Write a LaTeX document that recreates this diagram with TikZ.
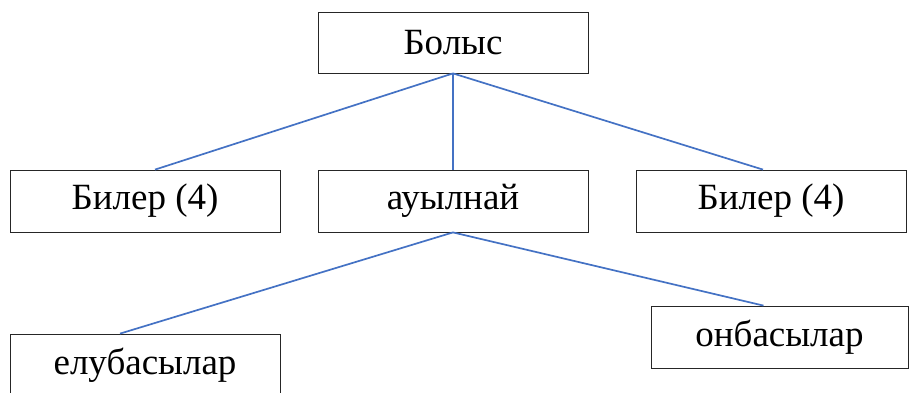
\documentclass[tikz,border=0pt]{standalone}
\usepackage{fontspec}
\setmainfont{Liberation Serif}
\definecolor{linkblue}{RGB}{68,114,196}
\begin{document}
\begin{tikzpicture}[x=1pt,y=-1pt,
    unit/.style={draw=black!85, line width=0.8pt, minimum width=270pt, minimum height=62pt, inner sep=0pt, font=\fontsize{37}{43}\selectfont},
    link/.style={draw=linkblue, line width=1.7pt}]
    \useasboundingbox (0,0) rectangle (910,392);

    % top level
    \node[unit, minimum height=61pt] (bolys) at (453,42.5) {Болыс};

    % middle level
    \node[unit] (bilerL) at (145,201) {Билер (4)};
    \node[unit] (auyl) at (453,201) {ауылнай};
    \node[unit] (bilerR) at (771,201) {Билер (4)};

    % bottom level
    \node[unit] (elu) at (145,365) {елубасылар};
    \node[unit, minimum width=257pt] (on) at (779.5,337) {онбасылар};

    % links
    \draw[link] (bolys.south) -- ([xshift=10pt]bilerL.north);
    \draw[link] (bolys.south) -- (auyl.north);
    \draw[link] (bolys.south) -- ([xshift=-8pt]bilerR.north);
    \draw[link] (auyl.south) -- ([xshift=-25pt]elu.north);
    \draw[link] (auyl.south) -- ([xshift=-16pt]on.north);
\end{tikzpicture}
\end{document}
